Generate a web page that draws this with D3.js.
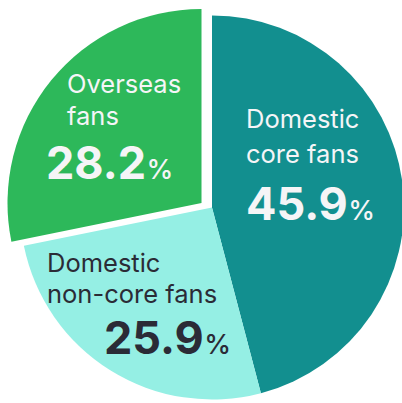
<!DOCTYPE html>
<html>
<head>
<meta charset="utf-8">
<script src="https://cdn.jsdelivr.net/npm/d3@7"></script>
<style>
  html, body { margin: 0; padding: 0; background: #ffffff; }
  svg { display: block; }
  text { font-family: Inter, "Noto Sans", sans-serif; }
</style>
</head>
<body>
<div id="chart"></div>
<script>
// ---- data ----
const categories = ["Domestic core fans", "Domestic non-core fans", "Overseas fans"];
const labelLines = [["Domestic", "core fans"], ["Domestic", "non-core fans"], ["Overseas", "fans"]];
const shares = [45.9, 25.9, 28.2];

// ---- style / layout ----
const W = 402, H = 403;
const cx = 212, cy = 207.5, R = 192;
const colors = ["#128f8f", "#95efe4", "#2db85a"];
const textColors = ["#f5f5f7", "#2b2b36", "#f5f5f7"];
const explode = [[0, 0, 0], [0, 0, 0], [-10.5, -4.5, 2]]; // dx, dy, extra radius
// label anchors relative to pie centre: [x, line1 baseline, line2 baseline, number x, number baseline]
const labelPos = [
  [34, -79.5, -44.5, 34, 12.5],
  [-165, 64, 95.5, -108, 146],
  [-145, -114.5, -82.5, -166, -28.5]
];

const svg = d3.select("#chart").append("svg").attr("width", W).attr("height", H);
const g = svg.append("g").attr("transform", `translate(${cx},${cy})`);

const pie = d3.pie().sort(null).value(d => d)(shares);

pie.forEach((p, i) => {
  const [dx, dy, extra] = explode[i];
  const arc = d3.arc().innerRadius(0).outerRadius(R + extra);
  g.append("path")
    .attr("d", arc(p))
    .attr("transform", `translate(${dx},${dy})`)
    .attr("fill", colors[i]);
});

const fmt = d3.format(".1f");
pie.forEach((p, i) => {
  const [lx, y1, y2, nx, ny] = labelPos[i];
  const col = textColors[i];
  [y1, y2].forEach((yy, k) => {
    g.append("text").attr("fill", col).attr("font-size", 25.5)
      .attr("x", lx).attr("y", yy).text(labelLines[i][k]);
  });
  const n = g.append("text").attr("fill", col).attr("x", nx).attr("y", ny);
  n.append("tspan").attr("font-size", 45).attr("font-weight", 700).text(fmt(shares[i]));
  n.append("tspan").attr("font-size", 27).attr("font-weight", 500).attr("dx", 0.5).text("%");
});
</script>
</body>
</html>
